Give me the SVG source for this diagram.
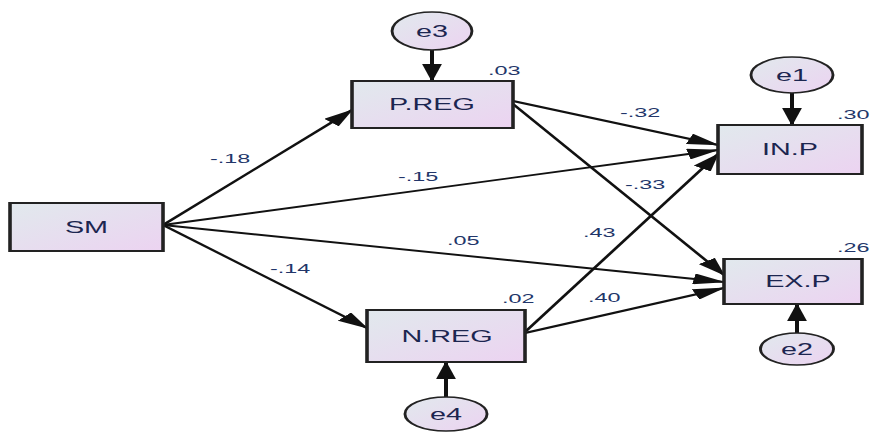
<svg xmlns="http://www.w3.org/2000/svg" width="872" height="432" viewBox="0 0 872 432">
<style>
.box{fill:url(#g);stroke:#222;stroke-width:2}
.err{fill:url(#g);stroke:#222;stroke-width:1.6}
.nt{font-family:"Liberation Sans",Arial,sans-serif;font-size:16px;fill:#1c2650;text-anchor:middle}
.lb{font-family:"Liberation Sans",Arial,sans-serif;font-size:13px;fill:#22366a}
.ed{fill:none;stroke:#111;stroke-width:1.9;marker-end:url(#ah)}
.ev{fill:none;stroke:#111;stroke-width:2.2;marker-end:url(#ah)}
</style>
<defs>
<linearGradient id="g" x1="0" y1="0" x2="1" y2="1">
<stop offset="0" stop-color="#e1e9ed"/>
<stop offset="1" stop-color="#ecd3f1"/>
</linearGradient>
<marker id="ah" markerUnits="userSpaceOnUse" markerWidth="18" markerHeight="11" refX="17" refY="5.5" orient="auto" viewBox="0 0 18 11">
<path d="M0,0 L18,5.5 L0,11 z" fill="#111"/>
</marker>
</defs>
<rect width="872" height="432" fill="#fff"/>
<g transform="scale(1.8,1)">
<g id="connectors">
<line class="ed" x1="90.56" y1="225" x2="195.56" y2="110"/>
<line class="ed" x1="90.56" y1="225" x2="398.89" y2="150"/>
<line class="ed" x1="90.56" y1="225" x2="402.22" y2="282"/>
<line class="ed" x1="90.56" y1="225" x2="203.89" y2="328"/>
<line class="ed" x1="285" y1="101" x2="398.89" y2="145"/>
<line class="ed" x1="285" y1="104" x2="402.22" y2="275"/>
<line class="ed" x1="291.67" y1="332" x2="398.89" y2="154"/>
<line class="ed" x1="291.67" y1="333" x2="402.22" y2="288"/>
<line class="ev" x1="240" y1="50" x2="240" y2="81"/>
<line class="ev" x1="440" y1="93" x2="440" y2="125"/>
<line class="ev" x1="442.78" y1="333" x2="442.78" y2="304"/>
<line class="ev" x1="247.78" y1="397" x2="247.78" y2="362"/>
<text class="lb" x="116.67" y="163">-.18</text>
<text class="lb" x="150" y="273">-.14</text>
<text class="lb" x="221.11" y="181">-.15</text>
<text class="lb" x="248.33" y="245">.05</text>
<text class="lb" x="344.44" y="117">-.32</text>
<text class="lb" x="347.22" y="189">-.33</text>
<text class="lb" x="323.89" y="237">.43</text>
<text class="lb" x="326.67" y="302">.40</text>
</g>
<g id="SM">
<rect class="box" x="5.56" y="203" width="85" height="48"/>
<text class="nt" x="48.06" y="233">SM</text>
</g>
<g id="PREG">
<rect class="box" x="195.56" y="81" width="89.44" height="47"/>
<text class="nt" x="240" y="110">P.REG</text>
<text class="lb" x="271.11" y="75">.03</text>
</g>
<g id="NREG">
<rect class="box" x="203.89" y="310" width="87.78" height="52"/>
<text class="nt" x="248.33" y="342">N.REG</text>
<text class="lb" x="278.89" y="303">.02</text>
</g>
<g id="INP">
<rect class="box" x="398.89" y="125" width="80" height="49"/>
<text class="nt" x="438.89" y="155">IN.P</text>
<text class="lb" x="465" y="119">.30</text>
</g>
<g id="EXP">
<rect class="box" x="402.22" y="259" width="76.67" height="45"/>
<text class="nt" x="443.33" y="287">EX.P</text>
<text class="lb" x="465" y="252">.26</text>
</g>
<g id="e3">
<ellipse class="err" cx="240" cy="31" rx="22.2" ry="19"/>
<text class="nt" x="240" y="37">e3</text>
</g>
<g id="e1">
<ellipse class="err" cx="440" cy="75" rx="22.8" ry="18"/>
<text class="nt" x="440" y="81">e1</text>
</g>
<g id="e2">
<ellipse class="err" cx="442.78" cy="349" rx="20.3" ry="16"/>
<text class="nt" x="442.78" y="355">e2</text>
</g>
<g id="e4">
<ellipse class="err" cx="247.78" cy="414" rx="22.8" ry="17"/>
<text class="nt" x="247.78" y="420">e4</text>
</g>
</g>
</svg>
